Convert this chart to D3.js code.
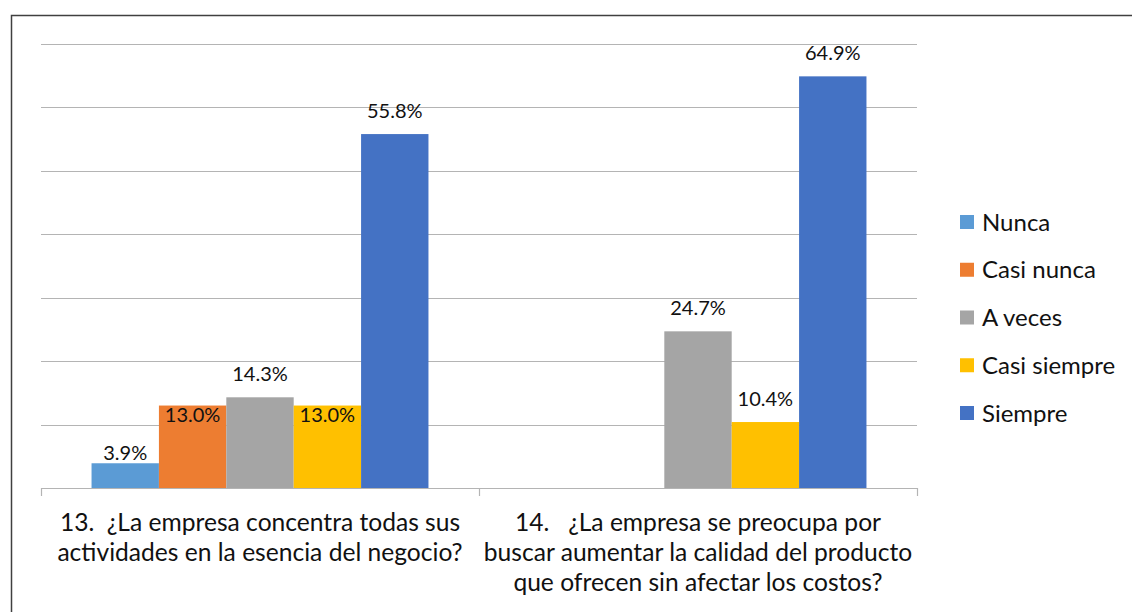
<!DOCTYPE html>
<html>
<head>
<meta charset="utf-8">
<script src="https://cdn.jsdelivr.net/npm/d3@7"></script>
<style>
  html, body { margin: 0; padding: 0; background: #fff; }
  svg { display: block; font-family: Lato, "Open Sans", sans-serif; }
  text { white-space: pre; }
</style>
</head>
<body>
<svg id="chart" width="1132" height="612"></svg>
<script>
// ---- data ----
const categories = [
  ["13.  ¿La empresa concentra todas sus", "actividades en la esencia del negocio?"],
  ["14.   ¿La empresa se preocupa por", "buscar aumentar la calidad del producto", "que ofrecen sin afectar los costos?"]
];
const categoryKeys = ["q13", "q14"];
const seriesNames = ["Nunca", "Casi nunca", "A veces", "Casi siempre", "Siempre"];
const seriesColors = ["#5B9BD5", "#ED7D31", "#A5A5A5", "#FFC000", "#4472C4"];
const valuesQ13 = [3.9, 13.0, 14.3, 13.0, 55.8];
const valuesQ14 = [null, null, 24.7, 10.4, 64.9];
const yTicks = [0, 10, 20, 30, 40, 50, 60, 70];

const seriesValues = [valuesQ13, valuesQ14];

const svg = d3.select("#chart");

// outer frame
svg.append("path")
  .attr("d", "M11.5,612 L11.5,15.5 L1132,15.5")
  .attr("fill", "none").attr("stroke", "#404040").attr("stroke-width", 1.5);

const plot = { left: 41, right: 917, top: 44, bottom: 488 };

const y = d3.scaleLinear().domain([0, 70]).range([plot.bottom, plot.top]);
const x0 = d3.scaleBand().domain(categoryKeys).range([plot.left, plot.right]).padding(0);
const x1 = d3.scaleBand().domain(seriesNames).range([0, x0.bandwidth()])
  .paddingInner(0).paddingOuter(0.75);

// gridlines
svg.append("g").selectAll("line").data(yTicks.filter(t => t > 0)).join("line")
  .attr("x1", plot.left).attr("x2", plot.right)
  .attr("y1", d => Math.round(y(d)) + 0.5).attr("y2", d => Math.round(y(d)) + 0.5)
  .attr("stroke", "#b4b4b4").attr("stroke-width", 1.2);

// bars
const groups = svg.append("g").selectAll("g").data(categoryKeys).join("g")
  .attr("transform", d => `translate(${x0(d)},0)`);

const cells = (ci) => seriesNames.map((s, si) => ({ s, si, v: seriesValues[ci][si], ci }));

groups.each(function(key, ci) {
  const g = d3.select(this);
  const data = cells(ci).filter(d => d.v != null);
  g.selectAll("rect").data(data).join("rect")
    .attr("x", d => x1(d.s))
    .attr("width", x1.bandwidth())
    .attr("y", d => y(d.v))
    .attr("height", d => y(0) - y(d.v))
    .attr("fill", (d) => seriesColors[d.si]);
});

// x axis
const axisG = svg.append("g").attr("transform", `translate(0,${plot.bottom})`);
axisG.append("line").attr("x1", plot.left).attr("x2", plot.right)
  .attr("y1", 0.5).attr("y2", 0.5).attr("stroke", "#b4b4b4").attr("stroke-width", 1.2);
const tickXs = [plot.left, ...categoryKeys.map(k => x0(k) + x0.bandwidth())];
axisG.selectAll("line.tick").data(tickXs).join("line").attr("class", "tick")
  .attr("x1", d => d + 0.5).attr("x2", d => d + 0.5)
  .attr("y1", 0).attr("y2", 8).attr("stroke", "#b4b4b4").attr("stroke-width", 1.2);

// labels (drawn after axis so they sit on top)
groups.each(function(key, ci) {
  const g = d3.select(this);
  const data = cells(ci).filter(d => d.v != null);
  g.selectAll("text.val").data(data).join("text").attr("class", "val")
    .attr("x", d => x1(d.s) + x1.bandwidth() / 2)
    .attr("y", d => {
      // label placements as in the original (some labels were moved by hand)
      if (ci === 0 && d.si === 0) return y(d.v) - 3;
      if (ci === 0 && (d.si === 1 || d.si === 3)) return y(d.v) + 16;
      return y(d.v) - 16;
    })
    .attr("text-anchor", "middle")
    .attr("font-size", 20)
    .attr("fill", "#111")
    .text(d => d.v.toFixed(1) + "%");
});

// category labels
const catG = svg.append("g");
categoryKeys.forEach((k, ci) => {
  const cx = x0(k) + x0.bandwidth() / 2;
  const t = catG.append("text").attr("text-anchor", "middle")
    .attr("font-size", 24.6).attr("fill", "#111");
  categories[ci].forEach((line, li) => {
    t.append("tspan").attr("x", cx).attr("y", 531 + li * 30).text(line);
  });
});

// legend
const legend = svg.append("g").attr("transform", "translate(960,0)");
const legendY = d3.scalePoint().domain(seriesNames).range([222, 413]);
const li = legend.selectAll("g").data(seriesNames).join("g")
  .attr("transform", d => `translate(0,${legendY(d)})`);
li.append("rect").attr("x", 0).attr("y", -7).attr("width", 14).attr("height", 14)
  .attr("fill", (d, i) => seriesColors[i]);
li.append("text").attr("x", 22).attr("y", 8.5).attr("font-size", 24)
  .attr("fill", "#111").text(d => d);
</script>
</body>
</html>
